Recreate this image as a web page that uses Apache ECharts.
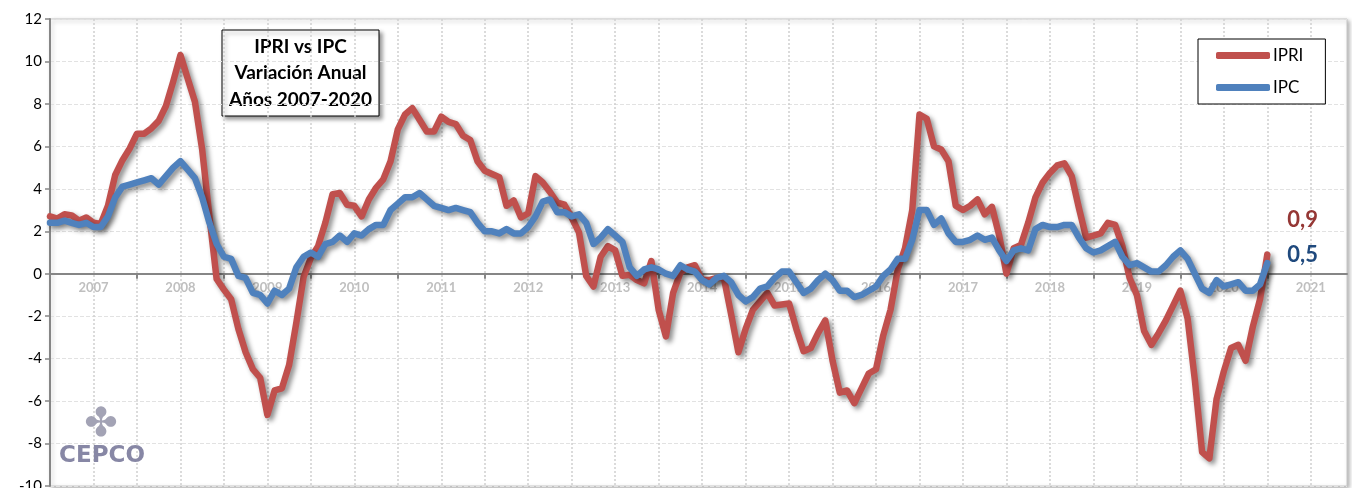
<!DOCTYPE html>
<html>
<head>
<meta charset="utf-8">
<script src="https://cdn.jsdelivr.net/npm/echarts/dist/echarts.min.js"></script>
<style>
html,body{margin:0;padding:0;background:#fff;}
#chart{width:1352px;height:488px;}
</style>
</head>
<body>
<div id="chart"></div>
<script>
// Years shown on the category axis (monthly categories Jan 2007 .. Dec 2021)
const years = [2007,2008,2009,2010,2011,2012,2013,2014,2015,2016,2017,2018,2019,2020,2021];
const months = [];
years.forEach(y => { for (let m = 1; m <= 12; m++) months.push(y + '-' + (m < 10 ? '0' + m : m)); });

// IPRI, annual variation (%), Jan 2007 .. Jan 2021
const ipri = [
  2.7, 2.6, 2.8, 2.75, 2.5, 2.65, 2.4, 2.35, 3.2, 4.65, 5.35, 5.9,
  6.6, 6.6, 6.85, 7.2, 7.9, 9.05, 10.3, 9.2, 8.1, 5.85, 2.7, -0.25,
  -0.75, -1.2, -2.6, -3.7, -4.5, -4.9, -6.65, -5.5, -5.4, -4.3, -2.3, -0.15,
  0.75, 1.3, 2.4, 3.75, 3.8, 3.25, 3.2, 2.7, 3.5, 4.05, 4.45, 5.3,
  6.8, 7.5, 7.8, 7.25, 6.7, 6.7, 7.4, 7.15, 7.05, 6.5, 6.3, 5.3,
  4.85, 4.7, 4.55, 3.2, 3.45, 2.65, 2.85, 4.6, 4.3, 3.85, 3.35, 3.25,
  2.65, 1.95, -0.1, -0.6, 0.8, 1.3, 1.1, -0.1, -0.05, -0.3, -0.45, 0.6,
  -1.7, -2.95, -0.9, 0.05, 0.3, 0.4, -0.3, -0.3, -0.2, -0.2, -1.9, -3.7,
  -2.6, -1.7, -1.3, -0.9, -1.5, -1.45, -1.4, -2.6, -3.65, -3.5, -2.8, -2.2,
  -4.1, -5.6, -5.5, -6.1, -5.4, -4.7, -4.5, -2.9, -1.7, 0.2, 1.2, 3.0,
  7.5, 7.3, 6.0, 5.85, 5.3, 3.2, 3.0, 3.2, 3.5, 2.8, 3.15, 1.8,
  0.0, 1.2, 1.35, 2.4, 3.6, 4.3, 4.75, 5.1, 5.2, 4.6, 3.1, 1.7,
  1.8, 1.9, 2.4, 2.3, 1.3, -0.2, -1.0, -2.7, -3.35, -2.8, -2.2, -1.5,
  -0.8, -2.1, -5.0, -8.4, -8.7, -5.9, -4.6, -3.5, -3.35, -4.1, -2.5, -1.2,
  0.9
];

// IPC, annual variation (%), Jan 2007 .. Jan 2021
const ipc = [
  2.4, 2.4, 2.5, 2.4, 2.3, 2.4, 2.2, 2.2, 2.7, 3.6, 4.1, 4.2,
  4.3, 4.4, 4.5, 4.2, 4.6, 5.0, 5.3, 4.9, 4.5, 3.6, 2.4, 1.4,
  0.8, 0.7, -0.1, -0.2, -0.9, -1.0, -1.4, -0.8, -1.0, -0.7, 0.3, 0.8,
  1.0, 0.8, 1.4, 1.5, 1.8, 1.5, 1.9, 1.8, 2.1, 2.3, 2.3, 3.0,
  3.3, 3.6, 3.6, 3.8, 3.5, 3.2, 3.1, 3.0, 3.1, 3.0, 2.9, 2.4,
  2.0, 2.0, 1.9, 2.1, 1.9, 1.9, 2.2, 2.7, 3.4, 3.5, 2.9, 2.9,
  2.7, 2.8, 2.4, 1.4, 1.7, 2.1, 1.8, 1.5, 0.3, -0.1, 0.2, 0.3,
  0.2, 0.0, -0.1, 0.4, 0.2, 0.1, -0.3, -0.5, -0.2, -0.1, -0.4, -1.0,
  -1.3, -1.1, -0.7, -0.6, -0.2, 0.1, 0.1, -0.4, -0.9, -0.7, -0.3, 0.0,
  -0.3, -0.8, -0.8, -1.1, -1.0, -0.8, -0.6, -0.1, 0.2, 0.7, 0.7, 1.6,
  3.0, 3.0, 2.3, 2.6, 1.9, 1.5, 1.5, 1.6, 1.8, 1.6, 1.7, 1.1,
  0.6, 1.1, 1.2, 1.1, 2.1, 2.3, 2.2, 2.2, 2.3, 2.3, 1.7, 1.2,
  1.0, 1.1, 1.3, 1.5, 0.8, 0.4, 0.5, 0.3, 0.1, 0.1, 0.4, 0.8,
  1.1, 0.7, 0.0, -0.7, -0.9, -0.3, -0.6, -0.5, -0.4, -0.8, -0.8, -0.5,
  0.5
];

const seriesNames = ['IPRI', 'IPC'];
const titleLines = ['IPRI vs IPC', 'Variación Anual', 'Años 2007-2020'];
const yTicks = { min: -10, max: 12, step: 2 };

const RED = '#C0504D', BLUE = '#4F81BD';
const fmt = v => String(v).replace('.', ',');

const W = 1352, H = 488;
const GRID = { left: 50, right: 5, top: 19, bottom: 2 };
const plotH = H - GRID.top - GRID.bottom;
// lift the category axis (line, ticks, labels) from the bottom edge to the zero line
const zeroOffset = -plotH * (0 - yTicks.min) / (yTicks.max - yTicks.min);

const chart = echarts.init(document.getElementById('chart'), null, { renderer: 'canvas', width: W, height: H });

const lineShadow = { shadowColor: 'rgba(0,0,0,0.45)', shadowBlur: 5, shadowOffsetX: 3, shadowOffsetY: 3 };

chart.setOption({
  animation: false,
  backgroundColor: '#fff',
  grid: {
    left: GRID.left, right: GRID.right, top: GRID.top, bottom: GRID.bottom,
    containLabel: false, outerBoundsMode: 'none',
    show: true, borderColor: '#C8C8C8', borderWidth: 1, backgroundColor: '#fff',
    shadowColor: 'rgba(0,0,0,0.3)', shadowBlur: 4, shadowOffsetX: 2, shadowOffsetY: 2
  },
  legend: {
    data: [{ name: 'IPRI', icon: 'roundRect' }, { name: 'IPC', icon: 'roundRect' }],
    orient: 'vertical',
    left: 1198, top: 39,
    itemWidth: 54, itemHeight: 7, itemGap: 15,
    padding: [8, 22, 8, 18],
    borderColor: '#000', borderWidth: 1, backgroundColor: '#fff',
    textStyle: { fontFamily: 'Lato', fontSize: 17, color: '#000', padding: [0, 0, 0, -2] }
  },
  xAxis: {
    type: 'category',
    data: months,
    boundaryGap: false,
    position: 'bottom',
    offset: zeroOffset,
    axisLine: { onZero: false, lineStyle: { color: '#868686', width: 2 } },
    axisTick: { show: true, interval: (i) => i % 12 === 0, length: 5, lineStyle: { color: '#868686', width: 2 } },
    axisLabel: {
      interval: (i) => i % 12 === 6,
      formatter: (v) => v.slice(0, 4),
      color: '#BFBFBF', fontWeight: 'bold', fontSize: 13, fontFamily: 'Lato', margin: 8
    },
    splitLine: { show: true, interval: (i) => i % 6 === 0 && i > 0, lineStyle: { color: '#D0D0D0', type: [2, 2], width: 1.5 } }
  },
  yAxis: {
    type: 'value',
    min: yTicks.min, max: yTicks.max, interval: yTicks.step,
    axisLine: { show: true, onZero: false, lineStyle: { color: '#868686', width: 2 } },
    axisTick: { show: true, length: 5, lineStyle: { color: '#868686', width: 1.5 } },
    axisLabel: { color: '#000', fontSize: 15, fontFamily: 'Lato', margin: 8 },
    splitLine: { show: true, lineStyle: { color: '#E2E2E2', type: [4, 2], width: 1 } }
  },
  series: [
    {
      name: seriesNames[0], type: 'line', data: ipri, symbol: 'none', z: 3,
      itemStyle: { color: RED },
      lineStyle: Object.assign({ width: 6.5, color: RED, join: 'round', cap: 'round' }, lineShadow),
      endLabel: {
        show: true, formatter: (p) => fmt(p.value), color: '#953735',
        fontFamily: 'Lato', fontWeight: 'bold', fontSize: 22, distance: 0, offset: [20, -35]
      }
    },
    {
      name: seriesNames[1], type: 'line', data: ipc, symbol: 'none', z: 4,
      itemStyle: { color: BLUE },
      lineStyle: Object.assign({ width: 6.5, color: BLUE, join: 'round', cap: 'round' }, lineShadow),
      endLabel: {
        show: true, formatter: (p) => fmt(p.value), color: '#1F497D',
        fontFamily: 'Lato', fontWeight: 'bold', fontSize: 22, distance: 0, offset: [20, -8]
      }
    }
  ],
  graphic: [
    {
      type: 'group', z: 100,
      children: [
        {
          type: 'rect',
          shape: { x: 222, y: 30, width: 157, height: 86 },
          style: { fill: '#fff', stroke: '#000', lineWidth: 1, shadowColor: 'rgba(0,0,0,0.4)', shadowBlur: 4, shadowOffsetX: 3, shadowOffsetY: 3 }
        },
        {
          type: 'text',
          style: {
            text: titleLines.join('\n'), x: 300.5, y: 73,
            textAlign: 'center', textVerticalAlign: 'middle',
            font: 'bold 19px Lato', lineHeight: 26.5, fill: '#000'
          }
        }
      ]
    },
    {
      type: 'text', z: 100,
      style: { text: '✤', x: 101, y: 426, textAlign: 'center', textVerticalAlign: 'middle', font: '40px DejaVu Sans', fill: '#A3A3B5' }
    },
    {
      type: 'text', z: 100,
      style: { text: 'CEPCO', x: 102, y: 456, textAlign: 'center', textVerticalAlign: 'middle', font: 'bold 23px DejaVu Sans', fill: '#8787A5' }
    }
  ]
});
</script>
</body>
</html>
